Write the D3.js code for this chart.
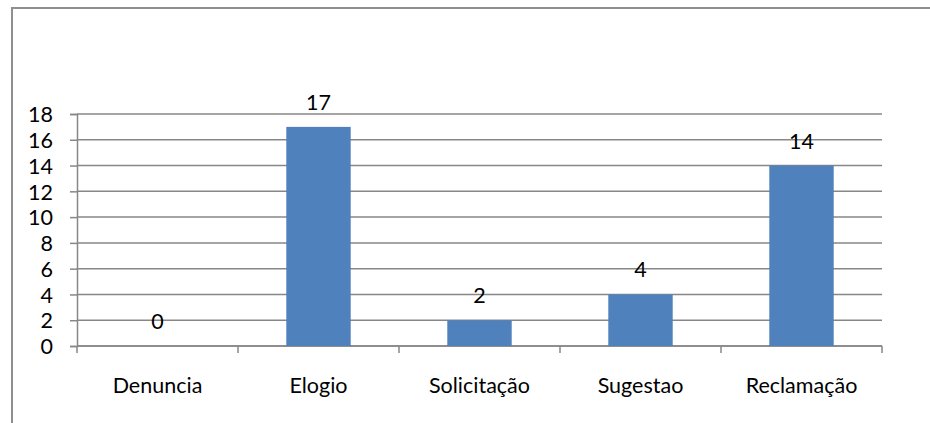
<!DOCTYPE html>
<html>
<head>
<meta charset="utf-8">
<script src="https://cdn.jsdelivr.net/npm/d3@7"></script>
<style>
  body { margin: 0; background: #fff; }
  text { font-family: Lato, "Open Sans", sans-serif; fill: #000; }
</style>
</head>
<body>
<svg id="chart" width="930" height="423"></svg>
<script>
// chart data
const categories = ["Denuncia", "Elogio", "Solicitação", "Sugestao", "Reclamação"];
const values = [0, 17, 2, 4, 14];
const yTicks = [0, 2, 4, 6, 8, 10, 12, 14, 16, 18];

const svg = d3.select("#chart");
const margin = { left: 77, right: 48, top: 114, bottom: 77 };
const width = 930, height = 423;
const gridColor = "#878787";
const fontSize = 21.5;

// outer frame of the chart area
svg.append("rect")
    .attr("x", 12).attr("y", 8)
    .attr("width", 940).attr("height", 440)
    .attr("fill", "none")
    .attr("stroke", "#8e8e8e")
    .attr("stroke-width", 2);

const x = d3.scaleBand()
    .domain(categories)
    .range([margin.left, width - margin.right]);

const y = d3.scaleLinear()
    .domain([0, 18])
    .range([height - margin.bottom, margin.top]);

// horizontal gridlines
svg.append("g")
    .selectAll("line")
    .data(yTicks)
    .join("line")
    .attr("x1", margin.left)
    .attr("x2", width - margin.right)
    .attr("y1", d => y(d))
    .attr("y2", d => y(d))
    .attr("stroke", gridColor)
    .attr("stroke-width", 1.5);

// y axis
const yAxis = svg.append("g")
    .attr("transform", `translate(${margin.left},0)`)
    .call(d3.axisLeft(y).tickValues(yTicks).tickSize(7).tickPadding(17));
yAxis.select(".domain").attr("stroke", gridColor).attr("stroke-width", 1.5);
yAxis.selectAll(".tick line").attr("stroke", gridColor).attr("stroke-width", 1.5);
yAxis.selectAll(".tick text").attr("font-size", fontSize).attr("dy", "0.36em");

// x axis: ticks at band boundaries
const xBase = y(0);
const bounds = categories.map(c => x(c)).concat([x(categories[categories.length - 1]) + x.bandwidth()]);
svg.append("line")
    .attr("x1", margin.left).attr("x2", width - margin.right)
    .attr("y1", xBase).attr("y2", xBase)
    .attr("stroke", gridColor).attr("stroke-width", 1.5);
svg.append("g")
    .selectAll("line")
    .data(bounds)
    .join("line")
    .attr("x1", d => d).attr("x2", d => d)
    .attr("y1", xBase).attr("y2", xBase + 7)
    .attr("stroke", gridColor).attr("stroke-width", 1.5);

svg.append("g")
    .selectAll("text")
    .data(categories)
    .join("text")
    .attr("x", d => x(d) + x.bandwidth() / 2)
    .attr("y", xBase + 47)
    .attr("text-anchor", "middle")
    .attr("font-size", fontSize)
    .text(d => d);

// bars
const barW = x.bandwidth() * 0.4;
svg.append("g")
    .selectAll("rect")
    .data(values)
    .join("rect")
    .attr("x", (d, i) => x(categories[i]) + (x.bandwidth() - barW) / 2)
    .attr("y", d => y(d))
    .attr("width", barW)
    .attr("height", d => y(0) - y(d))
    .attr("fill", "#4f81bd");

// value labels
svg.append("g")
    .selectAll("text")
    .data(values)
    .join("text")
    .attr("x", (d, i) => x(categories[i]) + x.bandwidth() / 2)
    .attr("y", d => y(d) - 17)
    .attr("text-anchor", "middle")
    .attr("font-size", fontSize)
    .text(d => d);
</script>
</body>
</html>
